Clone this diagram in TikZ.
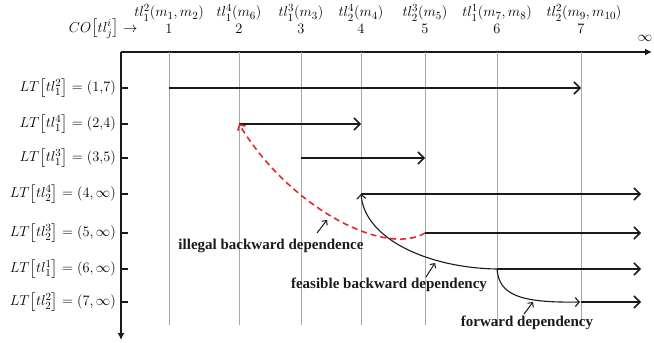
\documentclass[tikz,border=0pt]{standalone}
\usepackage{amsmath,amssymb}
\usepackage[no-math]{fontspec}
\setmainfont{Liberation Serif}
\usetikzlibrary{arrows.meta,positioning,calc}
\definecolor{ink}{HTML}{1A1A1A}
\definecolor{rule}{HTML}{A8A8A8}
\definecolor{badlink}{HTML}{E8262A}

\begin{document}
\begin{tikzpicture}[x=1pt,y=-1pt,font=\fontsize{15.5}{17}\selectfont,
  gridline/.style={draw=rule,line width=0.9pt},
  axis/.style={draw=ink,line width=1.9pt,-{Latex[length=7pt,width=7pt]}},
  lifespan/.style={draw=ink,line width=1.6pt,-{Straight Barb[length=6pt,width=12pt,line width=1.5pt]}},
  dep/.style={line width=1.1pt,-{Straight Barb[length=4pt,width=9pt]}},
  pointer/.style={draw=ink,line width=1pt,-{Straight Barb[length=3.5pt,width=7pt]}},
  note/.style={font=\bfseries\fontsize{15}{17}\selectfont,text=ink,inner sep=0pt}]

  \useasboundingbox (0,0) rectangle (654,343);

  % axes
  \coordinate (O) at (121,52);
  \coordinate (xend) at (652,52);
  \coordinate (yend) at (121,340);
  \coordinate (rend) at (641,52);
  \draw[axis] (O) -- (xend);
  \draw[axis] (O) -- (yend);
  \node[anchor=south] (inf) at (645,45) {$\infty$};

  % commit order columns
  \node[anchor=east] (co) at (141,29) {$CO\big[tl_j^i\big]\rightarrow$};
  \foreach \i/\x/\dx/\lab in {1/169/0/{tl_1^2(m_1,m_2)},2/239/0/{tl_1^4(m_6)},3/301/0/{tl_1^3(m_3)},
                              4/361/0/{tl_2^4(m_4)},5/425/0/{tl_2^3(m_5)},6/497/0/{tl_1^1(m_7,m_8)},
                              7/581/3/{tl_2^2(m_9,m_{10})}}{
    \coordinate (c\i) at (\x,52);
    \draw[gridline] (c\i) -- ++(0,273);
    \node (h\i) at (\x+\dx,13) {$\lab$};
    \node (n\i) at (\x,29) {$\i$};
  }

  % lifetimes
  \foreach \j/\y/\tl/\span in {1/88/{tl_1^2}/{1{,}7},2/124/{tl_1^4}/{2{,}4},3/158/{tl_1^3}/{3{,}5},
                               4/194/{tl_2^4}/{4,\infty},5/233/{tl_2^3}/{5,\infty},
                               6/269/{tl_1^1}/{6,\infty},7/302/{tl_2^2}/{7,\infty}}{
    \coordinate (r\j) at (121,\y);
    \draw[ink,line width=1.9pt] (r\j) -- ++(7,0);
    \node[anchor=east,inner sep=0pt] (lt\j) at (116,\y) {$LT\big[\tl\big]=(\span)$};
  }

  \draw[lifespan] (c1 |- r1) -- (c7 |- r1);
  \draw[lifespan] (c2 |- r2) -- (c4 |- r2);
  \draw[lifespan] (c3 |- r3) -- (c5 |- r3);
  \draw[lifespan] (c4 |- r4) -- (rend |- r4);
  \draw[lifespan] (c5 |- r5) -- (rend |- r5);
  \draw[lifespan] (c6 |- r6) -- (rend |- r6);
  \draw[lifespan] (c7 |- r7) -- (rend |- r7);

  % dependencies
  \draw[dep,badlink,dashed,dash pattern=on 6pt off 4pt,line width=1.6pt]
    (c5 |- r5) .. controls (385,257) and (290,208) .. (c2 |- r2);
  \draw[dep,ink] (c6 |- r6) .. controls (430,268) and (365,240) .. (c4 |- r4);
  \draw[dep,ink] (c6 |- r6) .. controls (499,295) and (520,303) .. ($(c7 |- r7)+(-1,0)$);

  % labels
  \node[note] (illegal) at (271,246) {illegal backward dependence};
  \node[note] (feasible) at (389,285) {feasible backward dependency};
  \node[note] (forward) at (527,323) {forward dependency};
  \coordinate (p1) at (317,233);
  \coordinate (p2) at (426,277);
  \coordinate (p3) at (524,314);
  \draw[pointer] (p1) -- ++(10,-13);
  \draw[pointer] (p2) -- ++(9,-14);
  \draw[pointer] (p3) -- ++(9,-12);
\end{tikzpicture}
\end{document}
